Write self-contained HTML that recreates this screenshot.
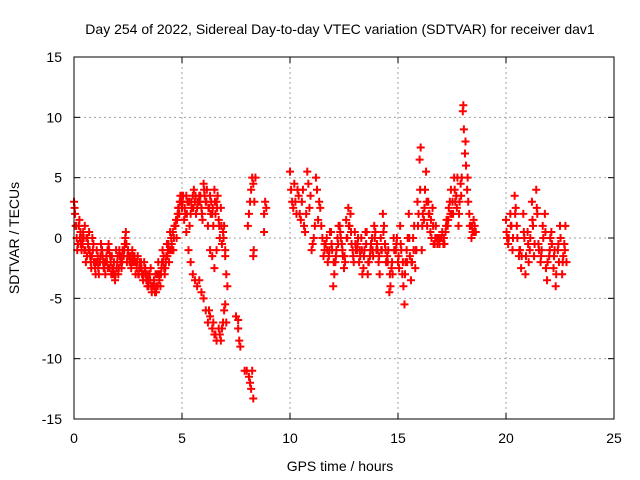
<!DOCTYPE html>
<html><head><meta charset="utf-8"><style>
body{margin:0;background:#fff}
svg{display:block}
text{font-family:"Liberation Sans",sans-serif;font-size:14px;fill:#000}
</style></head><body>
<svg id="chart" width="640" height="480">
<text x="340" y="34" text-anchor="middle">Day 254 of 2022, Sidereal Day-to-day VTEC variation (SDTVAR) for receiver dav1</text>
<text x="340" y="471" text-anchor="middle">GPS time / hours</text>
<text transform="translate(19,238) rotate(-90)" text-anchor="middle">SDTVAR / TECUs</text>
<g id="grid"></g>
<g id="ticks"></g>
<g id="marks"></g>
<rect x="74" y="57" width="540" height="362" fill="none" stroke="#000" stroke-width="1"></rect>
</svg>
<script>
const xTicks = [0, 5, 10, 15, 20, 25];
const yTicks = [-15, -10, -5, 0, 5, 10, 15];
const hoursA = [0,0.1,0.2,0.3,0.4,0.5,0.6,0.7,0.8,0.9,1,1.1,1.2,1.3,1.4,1.5,1.6,1.7,1.8,1.9,2,2.1,2.2,2.3,2.4,2.5,2.6,2.7,2.8,2.9,3,3.1,3.2,3.3,3.4,3.5,3.6,3.7,3.8,3.9,4,4.1,4.2,4.3,4.4,4.5,4.6,4.7,4.8,4.9,5];
const valsA = [3,1,-0.5,0.5,-0.5,1,-1.5,0.5,-2.5,-0.5,-3,-1.5,-2,-1,-2.5,-1.5,-0.5,-2,-3,-3.5,-2,-1,-2.5,-1.5,0.5,-1,-2,-1,-1.5,-2.5,-3,-2,-3.5,-2.5,-4,-3,-4.5,-3.5,-4.5,-2,-4,-1,-3,-0.5,-2,0,-1,1,2,3,3.5];
const hoursB = [0.05,0.15,0.25,0.35,0.45,0.55,0.65,0.75,0.85,0.95,1.05,1.15,1.25,1.35,1.45,1.55,1.65,1.75,1.85,1.95,2.05,2.15,2.25,2.35,2.45,2.55,2.65,2.75,2.85,2.95,3.05,3.15,3.25,3.35,3.45,3.55,3.65,3.75,3.85,3.95,4.05,4.15,4.25,4.35,4.45,4.55,4.65,4.75,4.85,4.95];
const valsB = [2,-1,1.5,-1,0,-2,-0.5,-1.5,0,-2,-1,-3,-0.5,-2,-3,-1,-2.5,-1.5,-2,-1,-3,-2,-1,-0.5,-2,-1.5,-2.5,-2,-3,-1.5,-2,-3,-2,-3.5,-4,-2.5,-4,-4.5,-3,-3.5,-2.5,-1.5,-2,-1,0.5,-1,1,0,2.5,3];
const hoursJ = [0.025,0.125,0.225,0.325,0.425,0.525,0.625,0.725,0.825,0.925,1.025,1.125,1.225,1.325,1.425,1.525,1.625,1.725,1.825,1.925,2.025,2.125,2.225,2.325,2.425,2.525,2.625,2.725,2.825,2.925,3.025,3.125,3.225,3.325,3.425,3.525,3.625,3.725,3.825,3.925,4.025,4.125,4.225,4.325,4.425,4.525,4.625,4.725,4.825,4.925];
const valsJ = [2.5,0,1,-0.5,0.5,-1,0,-1,-1.5,-2,-2,-2.5,-1.5,-1.5,-2,-2,-1,-3,-2.5,-3,-1.5,-1.5,-2,-1,-0.5,-1.5,-1.5,-1.5,-2,-2,-2.5,-2.5,-3,-3,-3.5,-3.5,-4,-4,-4,-3,-3,-2,-2.5,-1.5,-1,-0.5,0,1.5,2.5,3.5];
const hoursK = [0.075,0.175,0.275,0.375,0.475,0.575,0.675,0.775,0.875,0.975,1.075,1.175,1.275,1.375,1.475,1.575,1.675,1.775,1.875,1.975,2.075,2.175,2.275,2.375,2.475,2.575,2.675,2.775,2.875,2.975,3.075,3.175,3.275,3.375,3.475,3.575,3.675,3.775,3.875,3.975,4.075,4.175,4.275,4.375,4.475,4.575,4.675,4.775,4.875,4.975];
const valsK = [1,-0.5,0,0,-1,0,-1,-2,-1,-2.5,-2,-2,-1,-2.5,-2,-2.5,-1.5,-2.5,-3,-2.5,-2.5,-1.5,-1.5,0,-1.5,-2,-2,-2,-2,-3,-2.5,-3,-2.5,-3,-3,-4,-4,-3,-4,-3,-2,-2.5,-1.5,-0.5,-1,0.5,1,1.5,2,3];
const hoursC = [5,5.1,5.2,5.3,5.4,5.5,5.6,5.7,5.8,5.9,6,6.1,6.2,6.3,6.4,6.5,6.6,6.7,6.8,6.9,7,5.05,5.15,5.25,5.35,5.45,5.55,5.65,5.75,5.85,5.95,6.05,6.15,6.25,6.35,6.45,6.55,6.65,6.75,6.85,6.95];
const valsC = [2.5,1.5,3.5,3,2,3.5,3,2.5,3.5,2.5,4.5,3,1,3.5,2,4,3,1.5,2.5,0.5,-1,3.5,2,3,1,2.5,4,2,3,3.5,1.5,3.5,4,2.5,3,1,2,3.5,0,-0.5,1];
const hoursM = [5.025,5.125,5.225,5.325,5.425,5.525,5.625,5.725,5.825,5.925,6.025,6.125,6.225,6.325,6.425,6.525,6.625,6.725,6.825,6.925];
const valsM = [3,2.5,2,3,3,2.5,3.5,3,3,2,4,3,2.5,2,2.5,3,2.5,1,1,0];
const hoursD = [5.2,5.3,5.4,5.5,5.6,5.7,5.8,5.9,6,6.1,6.2,6.3,6.4,6.5,6.6,6.7,6.8,6.9,7,7.1,6.3,6.4,6.5,6.6,7,7.05,6.95,7.05,6.25,6.45,6.55,6.75,6.85];
const valsD = [0.5,-1,-2,-3,-3.5,-4,-3.5,-4.5,-5,-6,-7,-6.5,-7.5,-8,-8.5,-7.5,-8.5,-7,-5.5,-4,-1,-1.5,-2.5,-1,-1.5,-3,-6,-7,-6,-7,-8,-8,-7.5];
const hoursE = [7.5,7.6,7.65,7.7,7.6,7.9,8,8.1,8.15,8.2,8.3,8.25,8.05,8.1,8.15,8.2,8.25,8.3,8.35,8.4,8.3,8.32,8.8,8.85,8.9,8.8];
const valsE = [-6.5,-7.5,-8.5,-9,-6.8,-11,-11,-11.5,-12,-12.5,-13.3,-11,1,2,3,4,5,4.5,3,5,-1.5,-1,2,3,2.5,0.5];
const hoursF = [10,10.1,10.2,10.3,10.4,10.5,10.6,10.7,10.8,10.9,11,11.1,11.2,11.3,11.4,11.5,11.6,10.05,10.15,10.25,10.35,10.45,10.55,10.65,10.75,10.85,10.95,11.05,11.15,11.25,11.35,11.45,11.55];
const valsF = [5.5,3,4.5,2,3.5,1.5,4,0.5,5.5,2.5,-1,0,5,1.5,2.5,0,-0.5,4,2.5,3,4,2,3,1,2,4.5,3.5,-0.5,1,4,3,1,-1.5];
const hoursG = [11.6,11.7,11.8,11.9,12,12.1,12.2,12.3,12.4,12.5,12.6,12.7,12.8,12.9,13,13.1,13.2,13.3,13.4,13.5,13.6,13.7,13.8,13.9,14,14.1,14.2,14.3,14.4,14.5,14.6,14.7,14.8,14.9,15,15.1,15.2,15.3,15.4,15.5,15.6,15.7,15.8,15.9,16,16.1,16.2,16.3,16.4,16.5,16.6,16.7,16.8,16.9,17,17.1,17.2,17.3,17.4,17.5,17.6,17.7,17.8,17.9,18,18.1,18.2,18.3,18.4,18.5,18.6];
const valsG = [-1,0,-1.5,0.5,-4,-2,0,1,-0.5,-2.5,1.5,2.5,2,-1,0.5,-1,-2,0,-2.5,0.5,-3,-1.5,0,1,-1,-2,0,2,-0.5,-1.5,-4.5,-2.5,0,-1,-2,1,-3,-5.5,-1,2,-3.5,0,-2.5,3,6.5,-1,1.5,5.5,3,0.5,2.5,-0.5,0,0,0,-0.5,0.5,1,3,2,5,3.5,1,4.5,10.5,7,4,2,0,1.5,0.5];
const hoursH = [11.65,11.75,11.85,11.95,12.05,12.15,12.25,12.35,12.45,12.55,12.65,12.75,12.85,12.95,13.05,13.15,13.25,13.35,13.45,13.55,13.65,13.75,13.85,13.95,14.05,14.15,14.25,14.35,14.45,14.55,14.65,14.75,14.85,14.95,15.05,15.15,15.25,15.35,15.45,15.55,15.65,15.75,15.85,15.95,16.05,16.15,16.25,16.35,16.45,16.55,16.65,16.75,16.85,16.95,17.05,17.15,17.25,17.35,17.45,17.55,17.65,17.75,17.85,17.95,18.05,18.15,18.25,18.35,18.45,18.55];
const valsH = [-0.5,-2,0.5,-1,-3,-1,1,0,-1.5,-2,0,1,-0.5,-2,-1,0,-1.5,-3,-1,0.5,-2,-0.5,-1.5,0.5,-1,-3,-1,1,-2,-1,-4,-3,-1,0,-2.5,-1,-4,-2,0,-1.5,-2,1,-1,2,7.5,2,4,1,2,0,-0.5,1,0,0,0.5,-0.5,1.5,2.5,4,2,3,5,3,5,9,6,3,1,0.5,1];
const hoursL = [11.625,11.725,11.825,11.925,12.025,12.125,12.225,12.325,12.425,12.525,12.625,12.725,12.825,12.925,13.025,13.125,13.225,13.325,13.425,13.525,13.625,13.725,13.825,13.925,14.025,14.125,14.225,14.325,14.425,14.525,14.625,14.725,14.825,14.925,15.025,15.125,15.225,15.325,15.425,15.525,15.625,15.725,15.825,15.925,16.025,16.125,16.225,16.325,16.425,16.525,16.625,16.725,16.825,16.925,17.025,17.125,17.225,17.325,17.425,17.525,17.625,17.725,17.825,17.925,18.025,18.125,18.225,18.325,18.425,18.525];
const valsL = [-0.5,-1,-1,-0.5,-2,-1.5,-0.5,0.5,-1,-1.5,0,1,0.5,-1.5,-0.5,-0.5,-1,-1,-1.5,-0.5,-2,-1,-1,0,-0.5,-1.5,-1,0.5,-1,-2,-3,-2,-1,-0.5,-1.5,-0.5,-2,-3,-2,0,-2,-1,-1,1,4,1,2.5,3,2,1.5,1,0,-0.5,-0.5,0,0,1,1.5,2,3,4,2.5,2,3.5,11,8,5,1,1,0.5];
const hoursI = [20,20.1,20.2,20.3,20.4,20.5,20.6,20.7,20.8,20.9,21,21.1,21.2,21.3,21.4,21.5,21.6,21.7,21.8,21.9,22,22.1,22.2,22.3,22.4,22.5,22.6,22.7,22.8,20.05,20.25,20.45,20.65,20.85,21.05,21.25,21.45,21.65,21.85,22.05,22.25,22.45,22.65,22.75];
const valsI = [1.5,-0.5,2,-1,3.5,1,-1.5,-2.5,2,-3,0.5,-1,3,-1.5,4,-0.5,-2,1,2,-3.5,-1.5,0.5,-2.5,-4,-1,1,-3,-0.5,-2,0,1,2.5,-1,0,-2,1,2,-1,-2.5,0,-1,-2,-1.5,1];
const hoursN = [20.025,20.125,20.225,20.325,20.425,20.525,20.625,20.725,20.825,20.925,21.025,21.125,21.225,21.325,21.425,21.525,21.625,21.725,21.825,21.925,22.025,22.125,22.225,22.325,22.425,22.525,22.625,22.725];
const valsN = [0.5,0,1,0,2,0,-1,-1.5,0.5,-1.5,-0.5,0,1.5,-0.5,2.5,-1,-1.5,0,0.5,-2,-1,-0.5,-1.5,-3,-0.5,0,-2,-1];

const X0=74,X1=614,Y0=419,Y1=57;
function xs(h){return X0+(h-0)/25*(X1-X0);}
function ys(v){return Y0-(v+15)/30*(Y0-Y1);}
const NS='http://www.w3.org/2000/svg';
const grid=document.getElementById('grid'), ticks=document.getElementById('ticks'), marks=document.getElementById('marks');
function mk(tag,attrs,parent){const e=document.createElementNS(NS,tag);for(const k in attrs)e.setAttribute(k,attrs[k]);parent.appendChild(e);return e;}
xTicks.forEach(t=>{
  const x=xs(t);
  if(t>0&&t<25){const g=mk('line',{x1:x,x2:x,y1:Y1,y2:Y0,stroke:'#a0a0a0','stroke-dasharray':'2,3'},grid);
  
  }
  mk('line',{x1:x,x2:x,y1:Y0,y2:Y0-6,stroke:'#000'},ticks);
  mk('line',{x1:x,x2:x,y1:Y1,y2:Y1+6,stroke:'#000'},ticks);
  const l=mk('text',{x:x,y:Y0+24,'text-anchor':'middle'},ticks);l.textContent=t;
  
  
});
yTicks.forEach(t=>{
  const y=ys(t);
  if(t>-15&&t<15){const g=mk('line',{x1:X0,x2:X1,y1:y,y2:y,stroke:'#a0a0a0','stroke-dasharray':'2,3'},grid);
  
  }
  mk('line',{x1:X0,x2:X0+6,y1:y,y2:y,stroke:'#000'},ticks);
  mk('line',{x1:X1,x2:X1-6,y1:y,y2:y,stroke:'#000'},ticks);
  const l=mk('text',{x:X0-12,y:y+5,'text-anchor':'end'},ticks);l.textContent=t;
  
  
});
const sets=[[hoursA,valsA],[hoursB,valsB],[hoursJ,valsJ],[hoursK,valsK],[hoursC,valsC],[hoursM,valsM],[hoursD,valsD],[hoursE,valsE],[hoursF,valsF],[hoursG,valsG],[hoursH,valsH],[hoursL,valsL],[hoursI,valsI],[hoursN,valsN]];
sets.forEach(([hs,vs])=>{
  const n=Math.min(hs.length,vs.length);
  for(let i=0;i<n;i++){
    const x=xs(hs[i]),y=ys(vs[i]);
    const p=mk('path',{d:`M${x-4},${y}h8M${x},${y-4}v8`,stroke:'#ff0000','stroke-width':2},marks);
    
    
  }
});
</script>
</body></html>
